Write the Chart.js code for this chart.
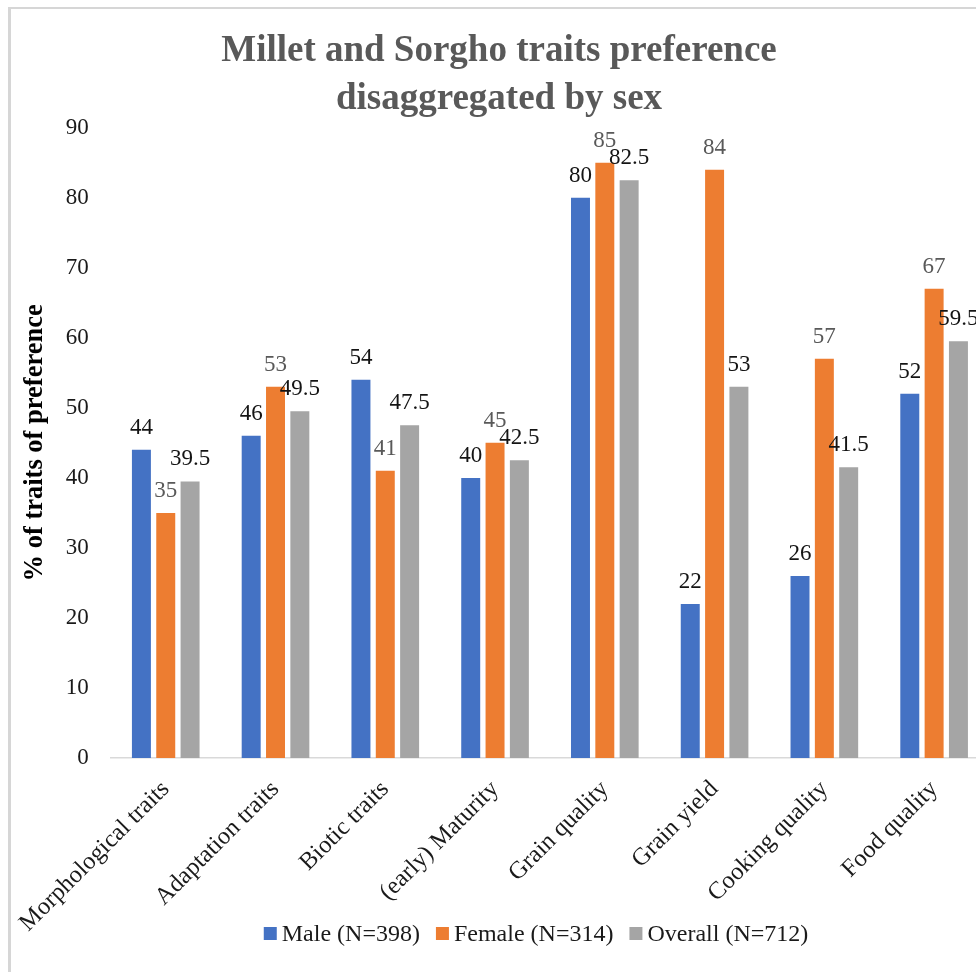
<!DOCTYPE html>
<html>
<head>
<meta charset="utf-8">
<title>Millet and Sorgho traits preference disaggregated by sex</title>
<script src="https://cdn.jsdelivr.net/npm/chart.js@4.4.1/dist/chart.umd.min.js"></script>
<style>
  html, body { margin: 0; padding: 0; overflow: hidden; background: #ffffff; width: 976px; height: 972px; }
  #frame {
    position: absolute; left: 8px; top: 7px; width: 1100px; height: 1100px;
    border-left: 3px solid #d6d6d6; border-top: 2px solid #d6d6d6;
  }
  #wrap { position: absolute; left: 0; top: 0; width: 1000px; height: 972px; }
</style>
</head>
<body>
<div id="frame"></div>
<div id="wrap"><canvas id="chart" width="1000" height="972"></canvas></div>
<script>
// Trait categories on the x axis
const categories = [
  'Morphological traits',
  'Adaptation traits',
  'Biotic traits',
  '(early) Maturity',
  'Grain quality',
  'Grain yield',
  'Cooking quality',
  'Food quality'
];

// Share of respondents (%) preferring each trait
const maleValues    = [44, 46, 54, 40, 80, 22, 26, 52];
const femaleValues  = [35, 53, 41, 45, 85, 84, 57, 67];
const overallValues = [39.5, 49.5, 47.5, 42.5, 82.5, 53, 41.5, 59.5];

const seriesNames = ['Male (N=398)', 'Female (N=314)', 'Overall (N=712)'];
const seriesColors = ['#4472C4', '#ED7D31', '#A5A5A5'];
const labelColors = ['#141414', '#595959', '#141414'];

// Value axis range
const yMin = 0;
const yMax = 90;
const yStep = 10;

const SERIF = '"Liberation Serif", "Times New Roman", serif';

// Value labels just above each bar
const barValueLabels = {
  id: 'barValueLabels',
  afterDatasetsDraw(chart) {
    const ctx = chart.ctx;
    ctx.save();
    ctx.font = '23px ' + SERIF;
    ctx.textAlign = 'center';
    ctx.textBaseline = 'alphabetic';
    chart.data.datasets.forEach((ds, di) => {
      const meta = chart.getDatasetMeta(di);
      ctx.fillStyle = labelColors[di];
      meta.data.forEach((bar, i) => {
        ctx.fillText(String(ds.data[i]), bar.x, bar.y - 16);
      });
    });
    ctx.restore();
  }
};

// Legend row under the axis labels: small square marker + series name
const bottomLegend = {
  id: 'bottomLegend',
  afterDraw(chart) {
    const ctx = chart.ctx;
    const box = 13, gapText = 5, gapItem = 16;
    const centerX = 536, centerY = 934;
    ctx.save();
    ctx.font = '24px ' + SERIF;
    ctx.textBaseline = 'middle';
    ctx.textAlign = 'left';
    const items = chart.data.datasets.map(ds => ({
      text: ds.label, color: ds.backgroundColor, w: ctx.measureText(ds.label).width
    }));
    let total = items.reduce((s, it) => s + box + gapText + it.w, 0) + gapItem * (items.length - 1);
    let x = centerX - total / 2;
    items.forEach(it => {
      ctx.fillStyle = it.color;
      ctx.fillRect(x, centerY - box / 2 - 0.5, box, box);
      x += box + gapText;
      ctx.fillStyle = '#1a1a1a';
      ctx.fillText(it.text, x, centerY + 1);
      x += it.w + gapItem;
    });
    ctx.restore();
  }
};

const datasets = [maleValues, femaleValues, overallValues].map((vals, i) => ({
  label: seriesNames[i],
  data: vals,
  backgroundColor: seriesColors[i],
  borderWidth: 0,
  categoryPercentage: 0.665,
  barPercentage: 0.78
}));

new Chart(document.getElementById('chart'), {
  type: 'bar',
  data: { labels: categories, datasets: datasets },
  plugins: [barValueLabels, bottomLegend],
  options: {
    responsive: false,
    animation: false,
    devicePixelRatio: 1,
    layout: { padding: { left: 9, right: 11, top: 0, bottom: 0 } },
    plugins: {
      legend: { display: false },
      tooltip: { enabled: false },
      title: {
        display: true,
        text: ['Millet and Sorgho traits preference', 'disaggregated by sex'],
        color: '#595959',
        font: { family: SERIF, size: 37, weight: 'bold', lineHeight: 1.28 },
        padding: { top: 28, bottom: 5 }
      }
    },
    scales: {
      x: {
        offset: true,
        grid: { display: false, drawTicks: false },
        border: { display: true, color: '#d9d9d9', width: 1.5 },
        ticks: {
          autoSkip: false,
          minRotation: 45,
          maxRotation: 45,
          padding: 17,
          color: '#1a1a1a',
          font: { family: SERIF, size: 24.5 }
        },
        afterFit(scale) { scale.height = 214; }
      },
      y: {
        min: yMin,
        max: yMax,
        grid: { display: false, drawTicks: false },
        border: { display: false },
        ticks: {
          stepSize: yStep,
          padding: 22,
          color: '#1a1a1a',
          font: { family: SERIF, size: 23 }
        },
        title: {
          display: true,
          text: '% of traits of preference',
          color: '#000000',
          font: { family: SERIF, size: 26.5, weight: 'bold', lineHeight: 1.2 },
          padding: { top: 8, bottom: 0 }
        },
        afterFit(scale) { scale.width = 100; }
      }
    }
  }
});
</script>
</body>
</html>
